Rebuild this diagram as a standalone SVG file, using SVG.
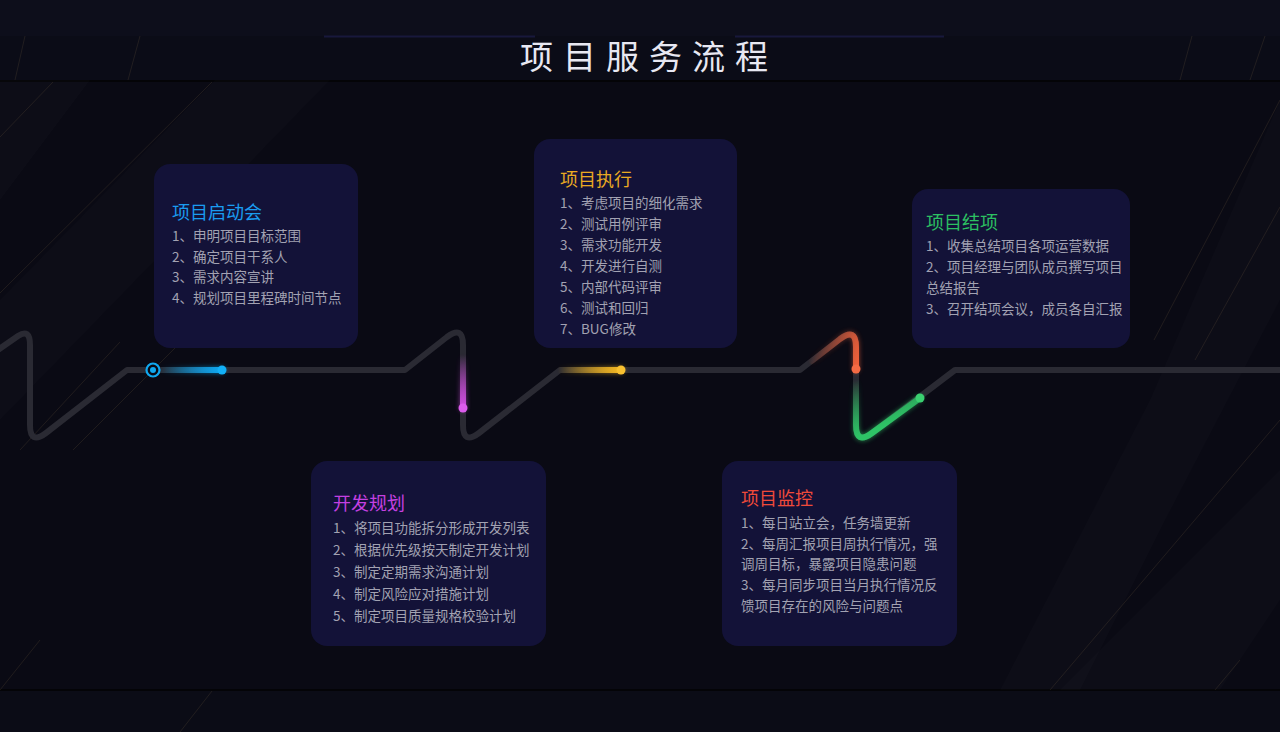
<svg xmlns="http://www.w3.org/2000/svg" width="1280" height="732" viewBox="0 0 1280 732">
<style>
.box{fill:#131238}
.t{font-family:"Noto Sans CJK SC","Noto Sans",sans-serif;font-size:18px}
.it{font-family:"Noto Sans CJK SC","Noto Sans",sans-serif;font-size:13.5px;fill:#a2a2b2}
.track{fill:none;stroke:#2a2a33;stroke-width:6;stroke-linecap:round;stroke-linejoin:round}
.seg{fill:none;stroke-width:6;stroke-linecap:round;stroke-linejoin:round}
.stripe{stroke:#7a6444;stroke-width:1;opacity:0.2}
.band{fill:#ffffff;opacity:0.014}
</style>
<defs>
<linearGradient id="gBlue" gradientUnits="userSpaceOnUse" x1="160" y1="0" x2="222" y2="0"><stop offset="0" stop-color="#0ea8f2" stop-opacity="0"/><stop offset="1" stop-color="#0ea8f2"/></linearGradient>
<linearGradient id="gMag" gradientUnits="userSpaceOnUse" x1="0" y1="355" x2="0" y2="408"><stop offset="0" stop-color="#d04ee0" stop-opacity="0"/><stop offset="1" stop-color="#d04ee0"/></linearGradient>
<linearGradient id="gYel" gradientUnits="userSpaceOnUse" x1="558" y1="0" x2="621" y2="0"><stop offset="0" stop-color="#f5b822" stop-opacity="0"/><stop offset="1" stop-color="#f5b822"/></linearGradient>
<linearGradient id="gOra" gradientUnits="userSpaceOnUse" x1="812" y1="352" x2="856" y2="369"><stop offset="0" stop-color="#f0603a" stop-opacity="0"/><stop offset="1" stop-color="#f0603a"/></linearGradient>
<linearGradient id="gGrn" gradientUnits="userSpaceOnUse" x1="856" y1="380" x2="875" y2="430"><stop offset="0" stop-color="#2ec466" stop-opacity="0"/><stop offset="1" stop-color="#2ec466"/></linearGradient>
<filter id="glow" x="-50%" y="-50%" width="200%" height="200%"><feGaussianBlur stdDeviation="2.5"/></filter>
</defs>
<rect width="1280" height="732" fill="#0a0a14"/>
<rect width="1280" height="36" fill="#0d0e1b"/>
<rect y="36" width="1280" height="44" fill="#0b0c17"/>
<rect y="80" width="1280" height="2" fill="#040407"/>
<rect y="689" width="1280" height="2" fill="#040407"/>
<rect y="691" width="1280" height="41" fill="#0b0c16"/>
<g id="background-stripes">
<polygon class="band" points="0,80 90,80 0,200"/>
<polygon class="band" points="0,300 215,80 330,80 0,420"/>
<polygon class="band" points="1280,100 1280,300 1160,530 1080,690 1000,690 1150,400"/>
<polygon class="band" points="1280,470 1280,600 1220,690 1060,690"/>
<line class="stripe" x1="0" y1="137" x2="53" y2="82"/>
<line class="stripe" x1="0" y1="293" x2="212" y2="82"/>
<line class="stripe" x1="20" y1="450" x2="120" y2="342"/>
<line class="stripe" x1="73" y1="450" x2="175" y2="348"/>
<line class="stripe" x1="1280" y1="100" x2="1154" y2="340"/>
<line class="stripe" x1="1280" y1="207" x2="1195" y2="360"/>
<line class="stripe" x1="1280" y1="420" x2="1050" y2="690"/>
<line class="stripe" x1="0" y1="690" x2="40" y2="640"/>
<line class="stripe" x1="15" y1="80" x2="25" y2="36"/>
<line class="stripe" x1="128" y1="80" x2="140" y2="36"/>
<line class="stripe" x1="1180" y1="80" x2="1192" y2="36"/>
<line class="stripe" x1="1250" y1="80" x2="1265" y2="36"/>
<line class="stripe" x1="180" y1="732" x2="212" y2="691"/>
<line class="stripe" x1="1215" y1="690" x2="1240" y2="660"/>
</g>
<g id="title">
<line x1="324" y1="36.5" x2="535" y2="36.5" stroke="#18183c" stroke-width="2"/>
<line x1="735" y1="36.5" x2="944" y2="36.5" stroke="#18183c" stroke-width="2"/>
<text x="649" y="69" text-anchor="middle" font-family="'Noto Sans CJK SC','Noto Sans',sans-serif" font-size="33" letter-spacing="10" fill="#e8e8f2">项目服务流程</text>
</g>
<g id="connectors">
<path class="track" d="M -5 352 L 18 336 Q 30 328 30 345 L 30 425 Q 30 445 46 433 L 127 370 L 405 370 L 447 337 Q 463 325 463 345 L 463 425 Q 463 445 479 433 L 560 370 L 800 370 L 840 339 Q 856 327 856 347 L 856 425 Q 856 445 872 433 L 955 370 L 1290 370"/>
<g opacity="0.7" filter="url(#glow)">
<line class="seg" x1="160" y1="370" x2="222" y2="370" stroke="url(#gBlue)"/>
<line class="seg" x1="463" y1="355" x2="463" y2="408" stroke="url(#gMag)"/>
<line class="seg" x1="558" y1="370" x2="621" y2="370" stroke="url(#gYel)"/>
<path class="seg" d="M 812 361 L 840 339 Q 856 327 856 347 L 856 369" stroke="url(#gOra)"/>
<path class="seg" d="M 856 380 L 856 425 Q 856 445 872 433 L 920 398" stroke="url(#gGrn)"/>
</g>
<line class="seg" x1="160" y1="370" x2="222" y2="370" stroke="url(#gBlue)"/>
<line class="seg" x1="463" y1="355" x2="463" y2="408" stroke="url(#gMag)"/>
<line class="seg" x1="558" y1="370" x2="621" y2="370" stroke="url(#gYel)"/>
<path class="seg" d="M 812 361 L 840 339 Q 856 327 856 347 L 856 369" stroke="url(#gOra)"/>
<path class="seg" d="M 856 380 L 856 425 Q 856 445 872 433 L 920 398" stroke="url(#gGrn)"/>
<circle cx="222" cy="370" r="4.5" fill="#12b0f8"/>
<circle cx="463" cy="408" r="4.5" fill="#dc5cec"/>
<circle cx="621" cy="370" r="4.5" fill="#f8c030"/>
<circle cx="856" cy="369" r="4.5" fill="#f46a44"/>
<circle cx="920" cy="398" r="4.5" fill="#3ad070"/>
<circle cx="153" cy="370" r="6.5" fill="#0a0a14" stroke="#10a8f0" stroke-width="2.2"/>
<circle cx="153" cy="370" r="3" fill="#10a8f0"/>
</g>
<g id="node-kickoff">
<rect class="box" x="154" y="164" width="204" height="184" rx="16"/>
<text class="t" x="172" y="219" fill="#1a9cf0">项目启动会</text>
<text class="it" x="172" y="241">1、申明项目目标范围</text>
<text class="it" x="172" y="262">2、确定项目干系人</text>
<text class="it" x="172" y="282">3、需求内容宣讲</text>
<text class="it" x="172" y="303">4、规划项目里程碑时间节点</text>
</g>
<g id="node-plan">
<rect class="box" x="311" y="461" width="235" height="185" rx="16"/>
<text class="t" x="333" y="510" fill="#c440e0">开发规划</text>
<text class="it" x="333" y="533">1、将项目功能拆分形成开发列表</text>
<text class="it" x="333" y="555">2、根据优先级按天制定开发计划</text>
<text class="it" x="333" y="577">3、制定定期需求沟通计划</text>
<text class="it" x="333" y="599">4、制定风险应对措施计划</text>
<text class="it" x="333" y="621">5、制定项目质量规格校验计划</text>
</g>
<g id="node-execute">
<rect class="box" x="534" y="139" width="203" height="209" rx="16"/>
<text class="t" x="560" y="186" fill="#eaaa22">项目执行</text>
<text class="it" x="560" y="208">1、考虑项目的细化需求</text>
<text class="it" x="560" y="229">2、测试用例评审</text>
<text class="it" x="560" y="250">3、需求功能开发</text>
<text class="it" x="560" y="271">4、开发进行自测</text>
<text class="it" x="560" y="292">5、内部代码评审</text>
<text class="it" x="560" y="313">6、测试和回归</text>
<text class="it" x="560" y="334">7、BUG修改</text>
</g>
<g id="node-monitor">
<rect class="box" x="722" y="461" width="235" height="185" rx="16"/>
<text class="t" x="741" y="505" fill="#f04a3a">项目监控</text>
<text class="it" x="741" y="528">1、每日站立会，任务墙更新</text>
<text class="it" x="741" y="549">2、每周汇报项目周执行情况，强</text>
<text class="it" x="741" y="569">调周目标，暴露项目隐患问题</text>
<text class="it" x="741" y="590">3、每月同步项目当月执行情况反</text>
<text class="it" x="741" y="611">馈项目存在的风险与问题点</text>
</g>
<g id="node-close">
<rect class="box" x="912" y="189" width="218" height="159" rx="16"/>
<text class="t" x="926" y="229" fill="#2cc062">项目结项</text>
<text class="it" x="926" y="251">1、收集总结项目各项运营数据</text>
<text class="it" x="926" y="272">2、项目经理与团队成员撰写项目</text>
<text class="it" x="926" y="293">总结报告</text>
<text class="it" x="926" y="314">3、召开结项会议，成员各自汇报</text>
</g>
</svg>
